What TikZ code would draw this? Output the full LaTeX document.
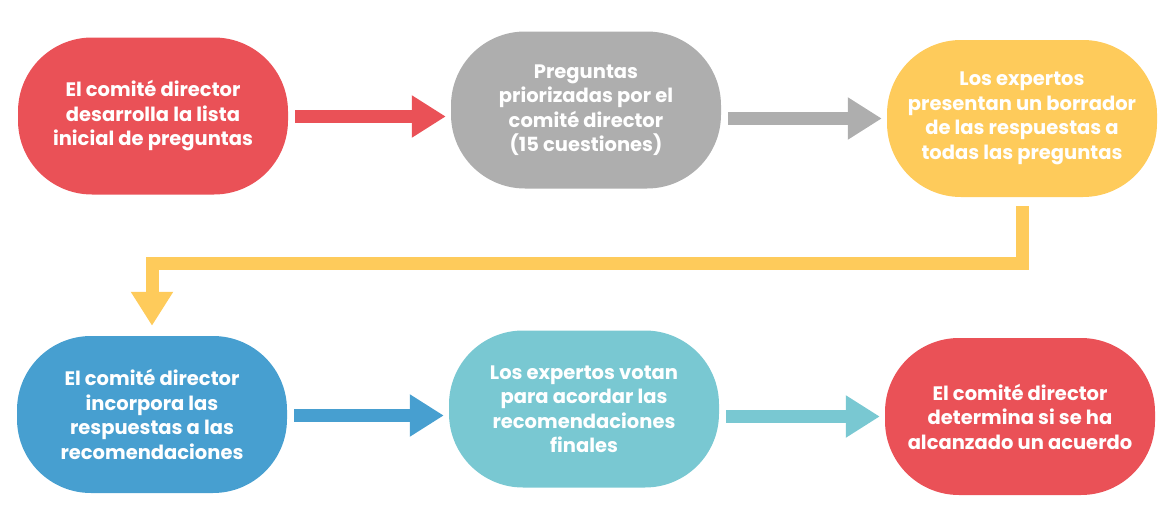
\documentclass[tikz,border=0pt]{standalone}
\usepackage{fontspec}
\setmainfont{Poppins}
\usetikzlibrary{arrows.meta}

\definecolor{cred}{HTML}{EA5157}
\definecolor{cgrey}{HTML}{AEAEAE}
\definecolor{cyellow}{HTML}{FECB5B}
\definecolor{cblue}{HTML}{479FD0}
\definecolor{cteal}{HTML}{79C8D2}

\begin{document}
\begin{tikzpicture}[x=1pt,y=-1pt,
    stepnode/.style={rectangle, rounded corners=74pt, minimum width=270pt, minimum height=157pt,
      text=white, align=center, inner sep=0pt,
      font=\fontsize{19.5}{24.5}\selectfont\bfseries},
    blockarrow/.style={line width=13pt, -{Triangle[length=34pt, width=40pt]},
      shorten <=7pt, shorten >=5pt}]
      \useasboundingbox (0,0) rectangle (1170,530);

      \node[stepnode, fill=cred](n1) at (153,116){El comité director\\desarrolla la lista\\inicial de preguntas};
      \node[stepnode, fill=cgrey](n2) at (586,110){Preguntas\\priorizadas por el\\comité director\\(15 cuestiones)};
      \node[stepnode, fill=cyellow](n3) at (1022,118.5){Los expertos\\presentan un borrador\\de las respuestas a\\todas las preguntas};

      \node[stepnode, fill=cblue](n4) at (152,414.5){El comité director\\incorpora las\\respuestas a las\\recomendaciones};
      \node[stepnode, fill=cteal](n5) at (584,409){Los expertos votan\\para acordar las\\recomendaciones\\finales};
      \node[stepnode, fill=cred](n6) at (1020,416.5){El comité director\\determina si se ha\\alcanzado un acuerdo};

      % first row
      \draw[blockarrow, color=cred] ([yshift=-0.5pt]n1.east) -- ([yshift=-0.5pt]n1.east -| n2.west);
      \draw[blockarrow, color=cgrey] (n2.east |- n3.west) -- (n3.west);

      % back to the second row
      \draw[blockarrow, color=cyellow, shorten <=9pt, shorten >=10pt] (n3.south) -- ++(0,66) -| (n4.north);

      % second row
      \draw[blockarrow, color=cblue] ([yshift=-1pt]n4.east) -- ([yshift=-1pt]n4.east -| n5.west);
      \draw[blockarrow, color=cteal] (n5.east |- n6.west) -- (n6.west);

    \end{tikzpicture}
\end{document}
